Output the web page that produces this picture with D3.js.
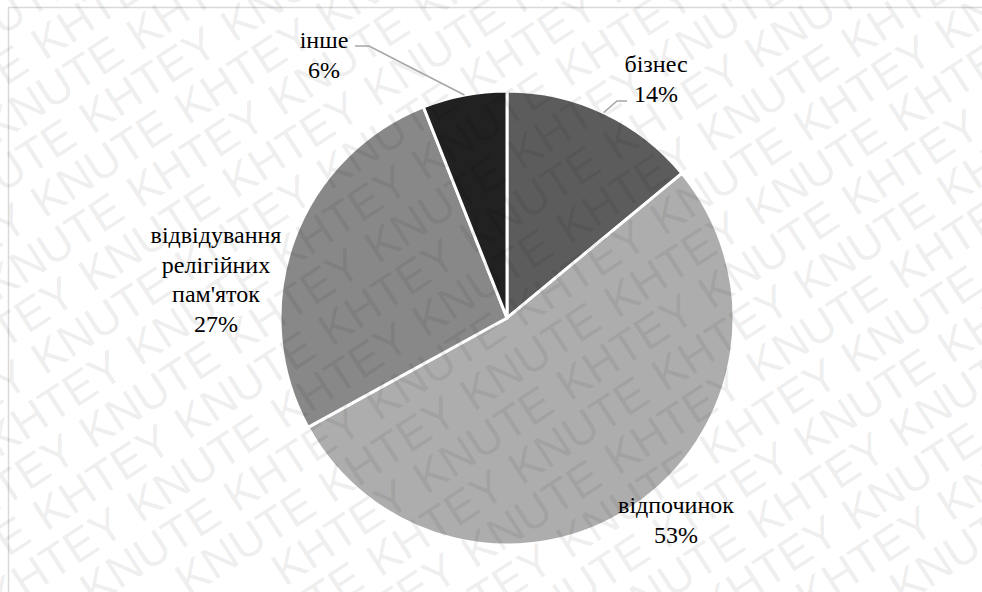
<!DOCTYPE html>
<html><head><meta charset="utf-8">
<script src="https://cdn.jsdelivr.net/npm/d3@7"></script>
<style>html,body{margin:0;padding:0;background:#fff;}svg{display:block;}</style>
</head><body>
<svg id="chart" width="982" height="592"></svg>
<script>
const categories = ["бізнес", "відпочинок", "відвідування релігійних пам'яток", "інше"];
const labelLines = [["бізнес"], ["відпочинок"], ["відвідування", "релігійних", "пам'яток"], ["інше"]];
const values = [14, 53, 27, 6];
const colors = ["#5c5c5c", "#adadad", "#888888", "#212121"];
const watermarkWords = ["KNUTE", "KHTEY"];

const W = 982, H = 592;
const svg = d3.select("#chart");
svg.append("rect").attr("x", 8.5).attr("y", 7.5).attr("width", 1000).attr("height", 1000)
  .attr("fill", "#fff").attr("stroke", "#d9d9d9").attr("stroke-width", 1.5);

const cx = 507, cy = 318, R = 227;
const g = svg.append("g").attr("transform", `translate(${cx},${cy})`);
const pie = d3.pie().sort(null).value(d => d).startAngle(0).endAngle(2 * Math.PI);
const arcs = pie(values);
const arc = d3.arc().innerRadius(0).outerRadius(R);

g.selectAll("path.slice").data(arcs).enter().append("path")
  .attr("class", "slice").attr("d", arc)
  .attr("fill", (d, i) => colors[i]).attr("stroke", "#fff").attr("stroke-width", 3)
  .attr("stroke-linejoin", "round");

// watermark overlay
const ang = -33 * Math.PI / 180, ca = Math.cos(ang), sa = Math.sin(ang);
const step = 170, rowGap = 44;
const wm = svg.append("g").attr("pointer-events", "none");
for (let r = -16; r <= 16; r++) {
  for (let c = -8; c <= 8; c++) {
    const u = c * step + (r * step / 2) % step, v = r * rowGap;
    const x = W / 2 + u * ca - v * sa, y = H / 2 + u * sa + v * ca;
    if (x < -60 || x > W + 60 || y < -40 || y > H + 40) continue;
    wm.append("text").attr("transform", `translate(${x},${y}) rotate(-33)`)
      .attr("text-anchor", "middle").attr("font-family", "Liberation Sans")
      .attr("font-size", 46).attr("fill", "#000").attr("fill-opacity", 0.075)
      .text(watermarkWords[((c + r) % 2 + 2) % 2]);
  }
}

const labelPos = [
  {x: 656, y: 72, leader: [[627, 101], [617, 101]]},
  {x: 676, y: 513},
  {x: 216, y: 243},
  {x: 324, y: 48, leader: [[355, 46], [369, 46]]}
];
const lineH = 29.5;

arcs.forEach((d, i) => {
  const p = labelPos[i];
  if (p.leader) {
    const mid = (d.startAngle + d.endAngle) / 2;
    const end = [cx + R * Math.sin(mid), cy - R * Math.cos(mid)];
    svg.append("path").attr("d", d3.line()(p.leader.concat([end])))
      .attr("fill", "none").attr("stroke", "#a6a6a6").attr("stroke-width", 1.5);
  }
});
arcs.forEach((d, i) => {
  const p = labelPos[i];
  const lines = labelLines[i].concat([values[i] + "%"]);
  lines.forEach((l, k) => {
    const t = svg.append("text").attr("x", p.x).attr("y", p.y + k * lineH)
      .attr("font-family", "Times New Roman").attr("font-size", 24).attr("fill", "#000")
      .text(l);
    const w = t.node().getComputedTextLength();
    t.attr("x", p.x - w / 2);
  });
});
</script>
</body></html>
